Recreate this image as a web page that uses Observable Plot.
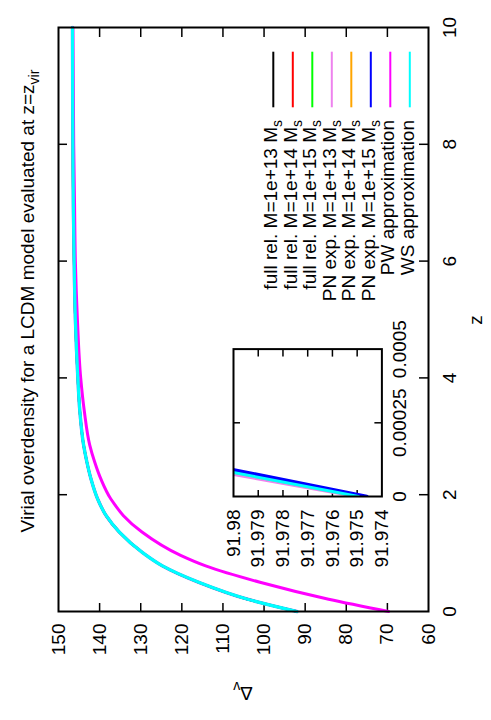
<!DOCTYPE html>
<html>
<head>
<meta charset="utf-8">
<script src="https://cdn.jsdelivr.net/npm/d3@7"></script>
<script src="https://cdn.jsdelivr.net/npm/@observablehq/plot@0.6"></script>
<style>
  html, body { margin: 0; padding: 0; background: #fff; }
  body { width: 491px; height: 720px; overflow: hidden; position: relative; }
  #rot { position: absolute; left: 0; top: 720px; width: 720px; height: 491px;
         transform-origin: 0 0; transform: rotate(-90deg); }
  #rot svg { position: absolute; }
</style>
</head>
<body>
<div id="rot"></div>
<script>
// ---------------- data ----------------
const zTicks = [0, 2, 4, 6, 8, 10];
const deltaTicks = [60, 70, 80, 90, 100, 110, 120, 130, 140, 150];
const insetZTicks = [0, 0.00025, 0.0005];
const insetDeltaTicks = [91.974, 91.975, 91.976, 91.977, 91.978, 91.979, 91.98];

const seriesNames = ["full rel. M=1e+13 M", "full rel. M=1e+14 M", "full rel. M=1e+15 M",
  "PN exp. M=1e+13 M", "PN exp. M=1e+14 M", "PN exp. M=1e+15 M",
  "PW approximation", "WS approximation"];
const seriesSub = ["s", "s", "s", "s", "s", "s", "", ""];
const seriesColors = ["#000000", "#ff0000", "#00ff00", "#ee82ee", "#ffa500", "#0000ff", "#ff00ff", "#00ffff"];

// full rel., PN exp. and WS curves coincide at the scale of the main panel
const zModel     = [0, 0.21, 0.50, 0.78, 1.0, 1.36, 1.64, 1.93, 2.27, 2.56, 2.85, 3.42, 4.0, 5.0, 6.0, 7.0, 8.0, 10.0];
const deltaModel = [92.0, 104.0, 115.9, 124.7, 129.4, 135.2, 138.4, 140.5, 142.1, 143.1, 143.9, 144.8, 145.3, 145.9, 146.2, 146.4, 146.5, 146.6];

// PW approximation
const zPW     = [0, 0.21, 0.50, 0.78, 0.96, 1.36, 1.64, 1.84, 1.93, 2.27, 2.56, 2.85, 3.42, 4.0, 5.0, 6.0, 7.0, 8.0, 10.0];
const deltaPW = [69.7, 84.3, 101.0, 114.2, 120.3, 129.7, 134.2, 136.4, 137.3, 139.7, 141.2, 142.4, 143.7, 144.6, 145.4, 145.9, 146.1, 146.3, 146.5];

// inset (zoom near z = 0)
const insetZ = [0, 0.0001];
const insetFullRel = [91.97495, 91.98115];
const insetPN13 = [91.97510, 91.98176];
const insetPN14 = [91.97495, 91.98115];
const insetPN15 = [91.97461, 91.98056];
const insetWS = [91.97495, 91.98115];

// ---------------- layout ----------------
const FONT = "'Liberation Sans', Arial, Helvetica, sans-serif";
const W = 720, H = 491;
const mL = 108, mR = 28, mT = 58, mB = 63;
const fw = W - mL - mR, fh = H - mT - mB;

const rows = (zs, ds) => zs.map((z, i) => ({z, d: ds[i]}));
const mainSeries = [deltaModel, deltaModel, deltaModel, deltaModel, deltaModel, deltaModel, deltaPW, deltaModel];
const mainZ = [zModel, zModel, zModel, zModel, zModel, zModel, zPW, zModel];
const mainWidths = [2.4, 2.4, 2.4, 3.4, 2.4, 2.4, 3, 3.2];

const main = Plot.plot({
  width: W, height: H,
  marginLeft: mL, marginRight: mR, marginTop: mT, marginBottom: mB,
  style: {fontFamily: FONT, fontSize: "19px", color: "#000", background: "transparent", overflow: "visible"},
  x: {domain: [0, 10]},
  y: {domain: [60, 150]},
  marks: [
    Plot.axisX(zTicks, {tickSize: 0, tickPadding: 14, tickFormat: d => String(d), label: null}),
    Plot.axisY(deltaTicks, {tickSize: 0, tickPadding: 12, tickFormat: d => String(d), label: null}),
    Plot.tickX(zTicks.slice(1, -1), {x: d => d, insetTop: fh - 9, strokeWidth: 1.5}),
    Plot.tickX(zTicks.slice(1, -1), {x: d => d, insetBottom: fh - 9, strokeWidth: 1.5}),
    Plot.tickY(deltaTicks.slice(1, -1), {y: d => d, insetRight: fw - 9, strokeWidth: 1.5}),
    Plot.tickY(deltaTicks.slice(1, -1), {y: d => d, insetLeft: fw - 9, strokeWidth: 1.5}),
    ...mainSeries.map((ds, i) => Plot.line(rows(mainZ[i], ds), {
      x: "z", y: "d", stroke: seriesColors[i], strokeWidth: mainWidths[i], curve: "monotone-x"
    })),
    Plot.frame({stroke: "#000", strokeWidth: 2})
  ]
});

const svg = d3.select(main);
// title
const title = svg.append("text").attr("x", 419).attr("y", 33.5)
  .attr("text-anchor", "middle").attr("font-size", 19).attr("fill", "#000");
title.append("tspan").text("Virial overdensity for a LCDM model evaluated at z=z");
title.append("tspan").attr("font-size", 14).attr("dy", 5).text("vir");
// x label
svg.append("text").attr("x", mL + fw / 2).attr("y", 482).attr("text-anchor", "middle")
  .attr("font-size", 19).attr("fill", "#000").text("z");
// y label
const yl = svg.append("text").attr("transform", `translate(33,${mT + fh / 2}) rotate(-90)`)
  .attr("text-anchor", "middle").attr("font-size", 19).attr("fill", "#000");
yl.append("tspan").text("Δ");
yl.append("tspan").attr("font-size", 14).attr("dy", 5).text("v");
// legend
const legY0 = 273.3, legDy = 19.5;
seriesNames.forEach((name, i) => {
  const y = legY0 + i * legDy;
  const t = svg.append("text").attr("x", 600).attr("y", y + 4).attr("text-anchor", "end")
    .attr("font-size", 19).attr("fill", "#000");
  t.append("tspan").text(name);
  if (seriesSub[i]) t.append("tspan").attr("font-size", 14).attr("dy", 5).text(seriesSub[i]);
  svg.append("line").attr("x1", 612.7).attr("x2", 668.3).attr("y1", y).attr("y2", y)
    .attr("stroke", seriesColors[i]).attr("stroke-width", 2);
});

// ---------------- inset ----------------
const iL = 80, iR = 40, iT = 10, iB = 40;
const ifw = 147.4, ifh = 148.4;
const insetSeries = [insetFullRel, insetFullRel, insetFullRel, insetPN13, insetPN14, insetPN15, null, insetWS];
const insetWidths = [2.5, 2.5, 2.5, 2.5, 2.5, 3.5, 2.5, 3];
const inset = Plot.plot({
  width: iL + ifw + iR, height: iT + ifh + iB,
  marginLeft: iL, marginRight: iR, marginTop: iT, marginBottom: iB,
  style: {fontFamily: FONT, fontSize: "19px", color: "#000", background: "transparent", overflow: "visible"},
  x: {domain: [0, 0.0005]},
  y: {domain: [91.974, 91.98]},
  marks: [
    Plot.axisX(insetZTicks, {tickSize: 0, tickPadding: 11, tickFormat: d => String(d), label: null}),
    Plot.axisY(insetDeltaTicks, {tickSize: 0, tickPadding: 13, tickFormat: d => String(d), label: null}),
    Plot.tickX(insetZTicks.slice(1, -1), {x: d => d, insetTop: ifh - 7, strokeWidth: 1.5}),
    Plot.tickX(insetZTicks.slice(1, -1), {x: d => d, insetBottom: ifh - 7, strokeWidth: 1.5}),
    Plot.tickY(insetDeltaTicks.slice(1, -1), {y: d => d, insetRight: ifw - 7, strokeWidth: 1.5}),
    Plot.tickY(insetDeltaTicks.slice(1, -1), {y: d => d, insetLeft: ifw - 7, strokeWidth: 1.5}),
    ...insetSeries.map((ds, i) => ds ? Plot.line(rows(insetZ, ds), {
      x: "z", y: "d", stroke: seriesColors[i], strokeWidth: insetWidths[i], clip: true
    }) : null).filter(Boolean),
    Plot.frame({stroke: "#000", strokeWidth: 2})
  ]
});

const rot = document.getElementById("rot");
main.style.left = "0px"; main.style.top = "0px";
rot.appendChild(main);
inset.style.left = (223.3 - iL) + "px";
inset.style.top = (233.3 - iT) + "px";
rot.appendChild(inset);
</script>
</body>
</html>
